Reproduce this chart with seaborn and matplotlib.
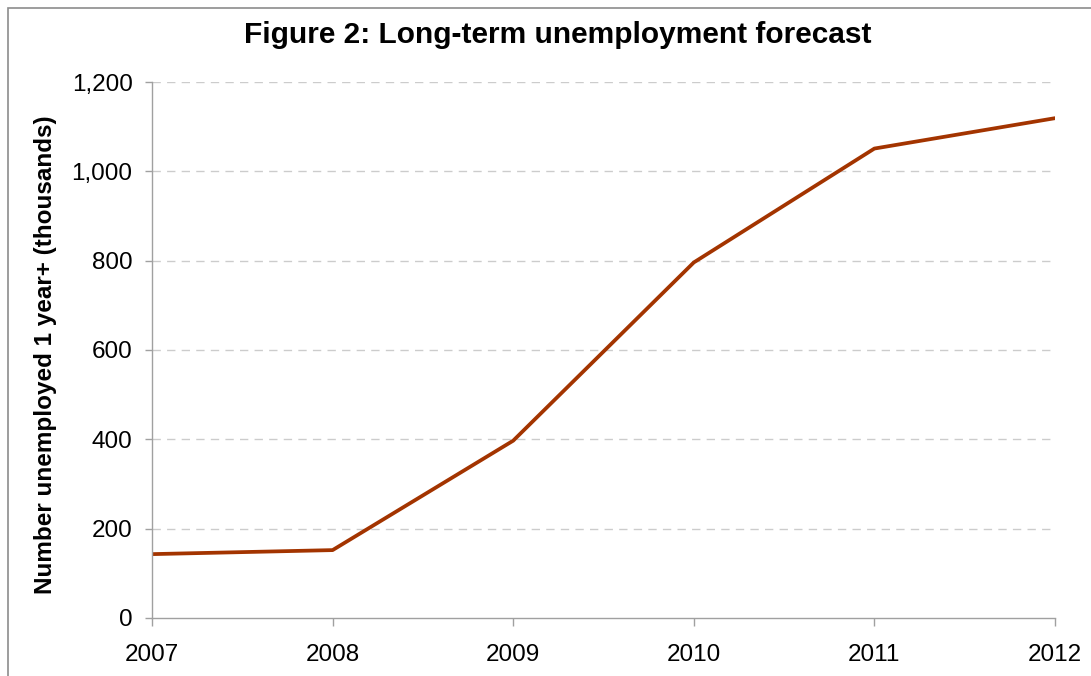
import matplotlib
matplotlib.use("Agg")
import matplotlib.pyplot as plt
import matplotlib.patches as mpatches
from matplotlib.ticker import FuncFormatter
import seaborn as sns
import pandas as pd

years = [2007, 2008, 2009, 2010, 2011, 2012]
unemployed = [143, 152, 397, 796, 1051, 1119]
yticks = [0, 200, 400, 600, 800, 1000, 1200]

sns.set_style("white")
plt.rcParams['font.family'] = ['Liberation Sans', 'DejaVu Sans']
plt.rcParams['text.color'] = 'black'

W, H = 1091, 676
fig = plt.figure(figsize=(W / 100, H / 100), dpi=100)
ax = fig.add_axes([152 / W, 1 - 618 / H, (1055 - 152) / W, (618 - 82) / H])

df = pd.DataFrame({"year": years, "value": unemployed})
sns.lineplot(data=df, x="year", y="value", ax=ax, color="#A33400", linewidth=2.7)

ax.set_xlim(2007, 2012)
ax.set_ylim(0, 1200)
ax.set_xticks(years)
ax.set_yticks(yticks)
ax.yaxis.set_major_formatter(FuncFormatter(lambda v, p: f"{int(v):,}"))
ax.set_xlabel("")
ax.set_ylabel("")

for s in ["top", "right"]:
    ax.spines[s].set_visible(False)
for s in ["left", "bottom"]:
    ax.spines[s].set_color("#a0a0a0")
    ax.spines[s].set_linewidth(1.0)

ax.tick_params(axis="y", direction="out", length=5, width=1, color="#a0a0a0",
               labelsize=17.5, pad=9, labelcolor="black", left=True)
ax.tick_params(axis="x", direction="out", length=6, width=1, color="#a0a0a0",
               labelsize=17.5, pad=13, labelcolor="black", bottom=True)

ax.yaxis.grid(True, color="#cccccc", linestyle=(0, (6, 4.5)), linewidth=1)
ax.xaxis.grid(False)
ax.set_axisbelow(True)
for line in ax.get_ygridlines()[:1]:
    line.set_visible(False)

fig.text(558 / W, 1 - 35 / H, "Figure 2: Long-term unemployment forecast",
         ha="center", va="center", fontsize=21.5, fontweight="bold", color="black")
fig.text(46 / W, 1 - 355 / H, "Number unemployed 1 year+ (thousands)",
         ha="center", va="center", rotation=90, fontsize=17.5, fontweight="bold",
         color="black")

border = mpatches.Rectangle((7.5 / W, -0.1), 1.2, 1 - 7.5 / H + 0.1,
                            transform=fig.transFigure, fill=False,
                            edgecolor="#8c8c8c", linewidth=1.2, clip_on=False)
fig.patches.append(border)

fig.savefig("out.png", dpi=100)
